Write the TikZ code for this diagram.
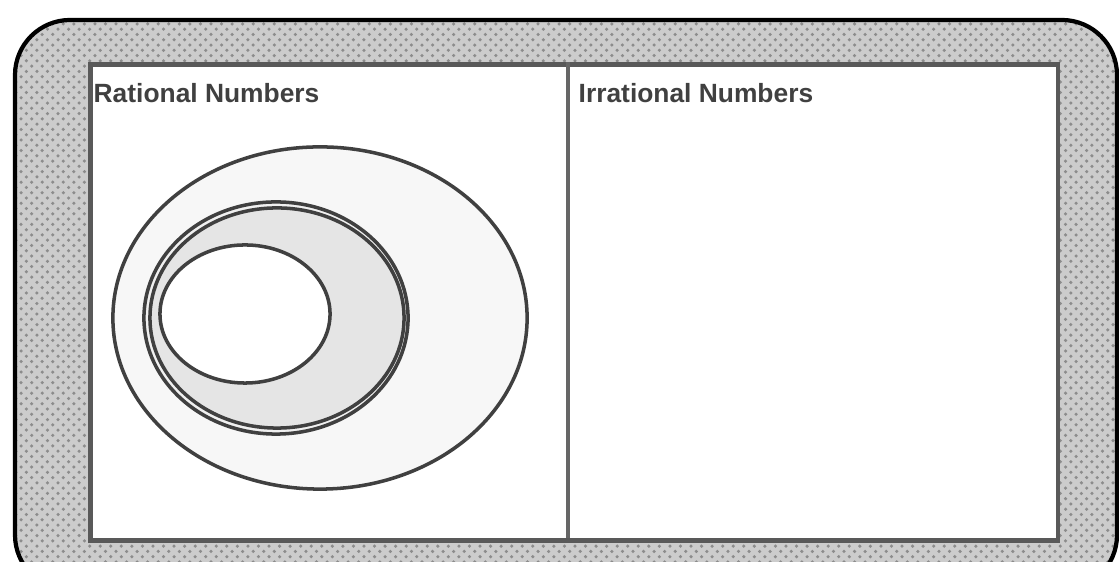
\documentclass[tikz,border=0pt]{standalone}
\usepackage{fontspec}
\setsansfont{Liberation Sans}
\usepackage{tikz}
\usetikzlibrary{positioning,shapes.geometric,patterns}

\begin{document}
\begin{tikzpicture}[
  x=0.01cm, y=-0.01cm,
  set/.style={ellipse, draw=black!75, line width=1pt, inner sep=0pt},
  heading/.style={anchor=west, inner sep=0pt, text=black!75,
    font=\sffamily\bfseries\fontsize{7.5}{8}\selectfont}
]
  \useasboundingbox (0,0) rectangle (1119,562);
  \clip (0,0) rectangle (1119,562);
  % hatched frame round the universe
  \fill[gray!40, rounded corners=0.55cm] (15,20) rectangle (1117,590);
  \fill[pattern=crosshatch dots, pattern color=gray!90, rounded corners=0.55cm] (15,20) rectangle (1117,590);
  \draw[line width=1.2pt, rounded corners=0.55cm] (15,20) rectangle (1117,590);
  % the two halves
  \node[draw=black!65, fill=white, line width=1.3pt, minimum width=9.67cm, minimum height=4.76cm,
    inner sep=0pt, anchor=north west] (reals) at (88,62) {};
  \coordinate (divtop) at (568,62);
  \coordinate (divbot) at (568,538);
  \draw[black!60, line width=1.2pt] (divtop) -- (divbot);
  \node[heading] (ratlabel) at (93,93) {Rational Numbers};
  \node[heading] (irrlabel) at (578,93) {Irrational Numbers};
  % nested sets
  \node[set, fill=gray!6, minimum width=4.14cm, minimum height=3.42cm] (rat) at (320,318) {};
  \node[set, fill=gray!12, minimum width=2.64cm, minimum height=2.32cm] (int) at (276,318) {};
  \node[set, fill=gray!20, minimum width=2.54cm, minimum height=2.20cm] (whole) at (277,318) {};
  \node[set, fill=white, minimum width=1.70cm, minimum height=1.38cm] (nat) at (245,314) {};
\end{tikzpicture}
\end{document}
